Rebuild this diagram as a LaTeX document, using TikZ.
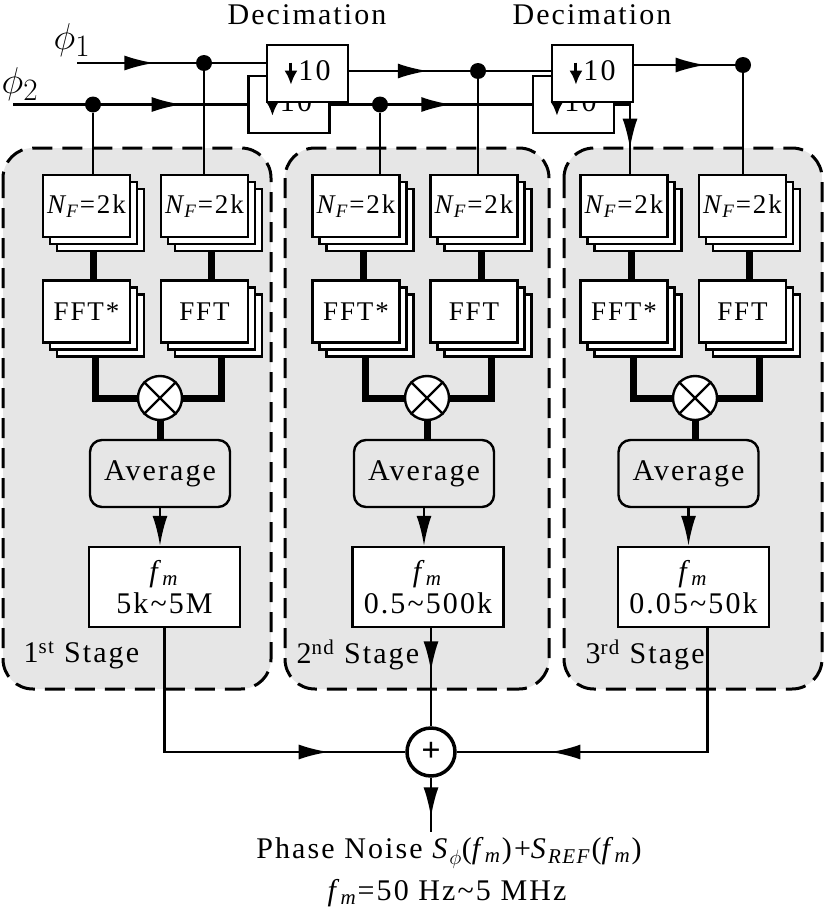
\documentclass[tikz,border=0pt]{standalone}
\usepackage{fontspec}
\setmainfont{Liberation Serif}[LetterSpace=7]
\usetikzlibrary{arrows.meta,calc,shadows,decorations.markings}
\definecolor{stagegray}{RGB}{230,230,230}
\newcommand{\fm}{\textit{f}\kern-1pt\textsubscript{\textit{m}}}
\newcommand{\nf}{\textit{N}\kern-2pt\textsubscript{\textit{F}}}
\newcommand{\phin}[1]{\scalebox{1.5}{$\phi_{#1}$}}
\newcommand{\downten}{\tikz[baseline=0pt]\draw[line width=3pt,-{Latex[length=14pt,width=13pt]}] (0pt,18pt)--(0pt,-4pt);\kern1pt10}
\tikzset{
  sig/.style={line width=2.4pt},
  fat/.style={line width=7pt},
  midarrow/.style={postaction={decorate},decoration={markings,mark=at position #1 with {\arrow{Latex[length=30pt,width=15pt]}}}},
  blk/.style={draw,fill=white,line width=2.4pt,minimum width=87pt,minimum height=62pt,inner sep=0pt,font=\fontsize{27}{32}\selectfont},
  stack/.style={blk,double copy shadow={shadow xshift=7pt,shadow yshift=-7pt}},
  decbox/.style={draw,fill=white,line width=2.4pt,minimum width=81pt,minimum height=57pt,inner sep=0pt},
  avgbox/.style={draw,fill=stagegray,rounded corners=12pt,line width=2.4pt,minimum width=140pt,minimum height=67pt},
  fmbox/.style={draw,fill=white,line width=2.4pt,minimum width=151pt,minimum height=80pt,align=center,inner sep=0pt},
  mixer/.style={circle,draw,fill=white,line width=2.4pt,minimum size=44pt,inner sep=0pt},
  adder/.style={circle,draw,fill=white,line width=3.5pt,minimum size=48pt,inner sep=0pt},
  dot/.style={circle,fill,inner sep=0pt,minimum size=16pt},
  stagebox/.style={draw,fill=stagegray,line width=3pt,dash pattern=on 20pt off 10pt,rounded corners=30pt},
}
\begin{document}
\begin{tikzpicture}[x=1pt,y=-1pt,font=\fontsize{30}{35}\selectfont]
\useasboundingbox (0,0) rectangle (827,918);
% the three stages
\draw[stagebox] (3,148) rectangle (271,689);
\draw[stagebox] (285,148) rectangle (549,689);
\draw[stagebox] (564,148) rectangle (822,689);

% decimation
\node (decLblA) at (307,15) {Decimation};
\node (decLblB) at (592,15) {Decimation};
\node[decbox] (decB) at (289,104.5) {\downten};
\node[decbox] (decA) at (307.5,73.5) {\downten};
\node[decbox] (decD) at (573.5,104.5) {\downten};
\node[decbox] (decC) at (592.5,73.5) {\downten};

\node (phiA) at (72,40) {\phin{1}};
\node (phiB) at (20,84) {\phin{2}};
\coordinate (inA) at (77,63);
\coordinate (inB) at (13,104.5);
\coordinate (bend) at (630,104.5);

\node[dot] (dotA) at (204,63) {};
\node[dot] (dotB) at (93,104.5) {};
\node[dot] (dotC) at (380,104.5) {};
\node[dot] (dotD) at (478,71) {};
\node[dot] (dotE) at (743,65) {};

\foreach \s/\n/\xl/\xr/\xm/\xa/\xf/\xs/\rng/\ord in {
  A/1/86.5/204.5/160/160/164.5/20/5k\textasciitilde5M/st,
  B/2/356/474/427/424/428/293/0.5\textasciitilde500k/nd,
  C/3/624/742.5/695/688.5/693.5/582/0.05\textasciitilde50k/rd}{
  \node[stack] (nfL\s) at (\xl,206) {\nf=2k};
  \node[stack] (nfR\s) at (\xr,206) {\nf=2k};
  \node[stack] (fftL\s) at (\xl,311.5) {FFT*};
  \node[stack] (fftR\s) at (\xr,311.5) {FFT};
  \node[mixer] (mix\s) at (\xm,398) {};
  \node[avgbox] (avg\s) at (\xa,473.5) {Average};
  \node[fmbox] (fm\s) at (\xf,587) {\fm\\[-3pt]\rng};
  \node[anchor=west] (stg\s) at (\xs,655) {\n\textsuperscript{\ord} Stage};
  \draw[sig] (mix\s.45) -- (mix\s.225) (mix\s.135) -- (mix\s.315);
  \draw[fat] ($(nfL\s.south)+(7,14)$) -- ($(fftL\s.north)+(7,0)$);
  \draw[fat] ($(nfR\s.south)+(7,14)$) -- ($(fftR\s.north)+(7,0)$);
  \draw[fat] ($(fftL\s.south)+(9,14)$) |- (mix\s);
  \draw[fat] ($(fftR\s.south)+(17,14)$) |- (mix\s);
  \draw[fat] (mix\s) -- (mix\s |- avg\s.north);
  \draw[sig,-{Latex[length=30pt,width=15pt]}] (avg\s.south) -- (avg\s.south |- fm\s.north);
}

% inputs and decimation paths
\draw[sig,midarrow=0.41] (inA) -- (inA -| decA.west);
\draw[sig,midarrow=0.72] (inB) -- (inB -| decB.west);
\draw[sig,midarrow=0.39] (decA.east |- dotD) -- (dotD -| decC.west);
\draw[sig,midarrow=0.60] (decB.east) -- (decD.west);
\draw[sig,midarrow=0.71] (decC.east |- dotE) -- (dotE);
\draw[sig,midarrow=0.70] (decD.east) -- (bend) -- (bend |- nfLC.north);
\draw[sig] (dotA) -- (dotA |- nfRA.north);
\draw[sig] (dotB) -- (dotB |- nfLA.north);
\draw[sig] (dotC) -- (dotC |- nfLB.north);
\draw[sig] (dotD) -- (dotD |- nfRB.north);
\draw[sig] (dotE) -- (dotE |- nfRC.north);

% sum of the stages
\node[adder] (sum) at (431,752) {\fontsize{34}{34}\selectfont\bfseries +};
\coordinate (out) at (431,832);
\draw[sig,midarrow=0.79] (fmA.south) |- (sum);
\draw[sig,midarrow=0.44] (sum |- fmB.south) -- (sum);
\draw[sig,midarrow=0.75] ($(fmC.south)+(14,0)$) |- (sum);
\draw[sig,midarrow=0.73] (sum) -- (out);
\node (res) at (449,853) {Phase Noise \textit{S}\textsubscript{$\phi$}(\fm)+\textit{S}\textsubscript{\textit{REF}}(\fm)};
\node (span) at (447,893) {\fm=50 Hz\textasciitilde5 MHz};
\end{tikzpicture}
\end{document}
